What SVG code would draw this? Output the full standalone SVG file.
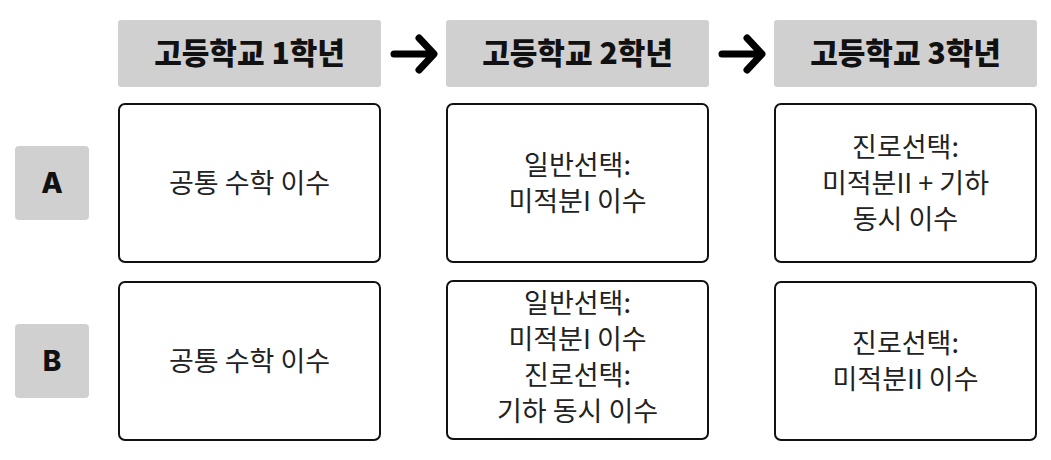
<svg xmlns="http://www.w3.org/2000/svg" width="1051" height="460" viewBox="0 0 1051 460">
<style>
.hd{fill:#d0d0d0}
.hdt{font-family:"Noto Sans CJK KR","Noto Sans",sans-serif;font-weight:900;font-size:30px;fill:#111;text-anchor:middle}
.box{fill:#fff;stroke:#111;stroke-width:2}
.t{font-family:"Noto Sans CJK KR","Noto Sans",sans-serif;font-size:27px;fill:#222;text-anchor:middle}
.lb{font-family:"Inter","Noto Sans",sans-serif;font-weight:800;font-size:28px;fill:#111;text-anchor:middle}
.ar{fill:none;stroke:#000;stroke-width:7;stroke-linecap:round;stroke-linejoin:round}
</style>
<rect width="1051" height="460" fill="#fff"/>
<g id="h1"><rect class="hd" x="118" y="20" width="263" height="67" rx="3"/><text class="hdt" x="249.5" y="64">고등학교 1학년</text></g>
<g id="h2"><rect class="hd" x="446" y="20" width="263" height="67" rx="3"/><text class="hdt" x="577.5" y="64">고등학교 2학년</text></g>
<g id="h3"><rect class="hd" x="774" y="20" width="263" height="67" rx="3"/><text class="hdt" x="905.5" y="64">고등학교 3학년</text></g>
<g id="connectors">
<path class="ar" d="M394 54H431M419 38L434 54L419 70"/>
<path class="ar" d="M722 54H759M747 38L762 54L747 70"/>
</g>
<g id="la"><rect class="hd" x="15" y="146" width="74" height="74" rx="4"/><text class="lb" x="52" y="193">A</text></g>
<g id="lb"><rect class="hd" x="15" y="324" width="74" height="74" rx="4"/><text class="lb" x="52" y="371">B</text></g>
<g id="a1"><rect class="box" x="119" y="104" width="261" height="158" rx="6"/><text class="t" x="249.5" y="193">공통 수학 이수</text></g>
<g id="a2"><rect class="box" x="447" y="104" width="261" height="158" rx="6"/><text class="t" x="577.5" y="175">일반선택:</text><text class="t" x="577.5" y="211">미적분I 이수</text></g>
<g id="a3"><rect class="box" x="775" y="104" width="261" height="158" rx="6"/><text class="t" x="905.5" y="157">진로선택:</text><text class="t" x="905.5" y="193">미적분II + 기하</text><text class="t" x="905.5" y="229">동시 이수</text></g>
<g id="b1"><rect class="box" x="119" y="282" width="261" height="158" rx="6"/><text class="t" x="249.5" y="371">공통 수학 이수</text></g>
<g id="b2"><rect class="box" x="447" y="281" width="261" height="158" rx="6"/><text class="t" x="577.5" y="313">일반선택:</text><text class="t" x="577.5" y="349">미적분I 이수</text><text class="t" x="577.5" y="385">진로선택:</text><text class="t" x="577.5" y="421">기하 동시 이수</text></g>
<g id="b3"><rect class="box" x="775" y="282" width="261" height="158" rx="6"/><text class="t" x="905.5" y="353">진로선택:</text><text class="t" x="905.5" y="389">미적분II 이수</text></g>
</svg>
